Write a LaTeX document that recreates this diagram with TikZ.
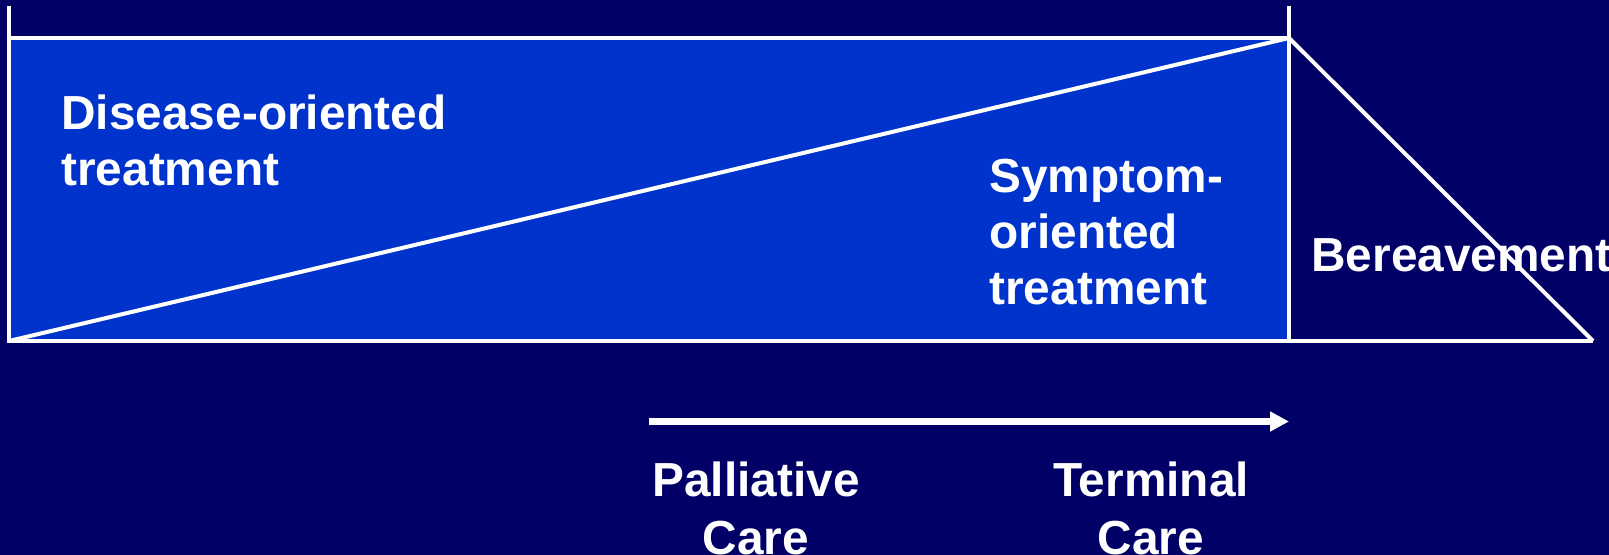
\documentclass[tikz,border=0pt]{standalone}
\usepackage{fontspec}
\setmainfont{Liberation Sans}
\usetikzlibrary{arrows.meta}
\definecolor{bgnavy}{RGB}{0,0,102}
\definecolor{boxblue}{RGB}{0,51,204}
\tikzset{
  edge/.style={draw=white, line width=2pt},
  phasetext/.style={text=white, inner sep=0pt, font=\fontsize{23.9}{28}\selectfont\bfseries}
}
\begin{document}
\begin{tikzpicture}[x=0.5pt,y=-0.5pt]
\fill [bgnavy] (0,0) rectangle (1609,555);
\useasboundingbox (0,0) rectangle (1609,555);
% corners of the time line
\coordinate (lefttop) at (9,6);
\coordinate (righttop) at (1289,6);
\coordinate (tl) at (9,38);
\coordinate (tr) at (1289,38);
\coordinate (bl) at (9,341);
\coordinate (br) at (1289,341);
\coordinate (death) at (1593,341);
\fill [boxblue] (tl) rectangle (br);
\draw [edge] (lefttop) -- (bl) -- (death);
\draw [edge] (righttop) -- (br);
\draw [edge] (tl) -- (tr);
\draw [edge] (bl) -- (tr);
\draw [edge] (tr) -- (death);
% labels
\node [phasetext, anchor=north west, align=left] (disease) at (61,94) {Disease-oriented\\treatment};
\node [phasetext, anchor=north west, align=left] (symptom) at (989,159) {Symptom-\\oriented\\treatment};
\node [phasetext, anchor=base west] (bereave) at (1311,272) {Bereavement};
% care arrow
\coordinate (carestart) at (649,421.5);
\coordinate (careend) at (1289,421.5);
\draw [white, line width=3.3pt, -{Triangle[length=9.5pt,width=9.5pt]}] (carestart) -- (careend);
\node [phasetext, anchor=north, align=center, font=\fontsize{23.9}{29}\selectfont\bfseries] (palliative) at (756,461) {Palliative\\Care};
\node [phasetext, anchor=north, align=center, font=\fontsize{23.9}{29}\selectfont\bfseries] (terminal) at (1151,461) {Terminal\\Care};
\end{tikzpicture}
\end{document}
